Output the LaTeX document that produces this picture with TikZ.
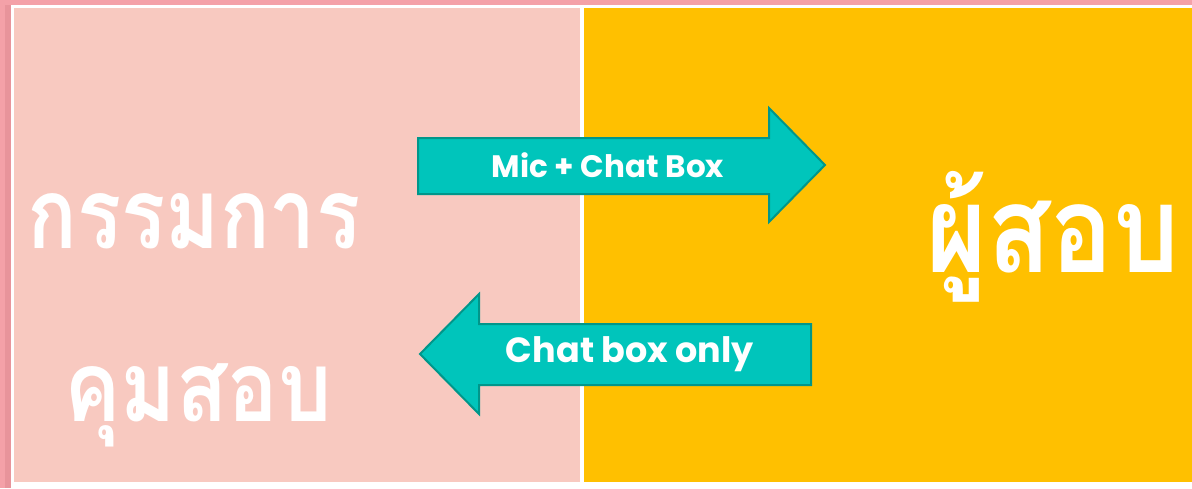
\documentclass[tikz,border=0pt]{standalone}
\usepackage{fontspec}
\usepackage{graphicx}
\newfontfamily\thaifont[Script=Thai]{Loma}
\newfontfamily\latfont{Poppins}
\definecolor{outerpink}{HTML}{F4A1A8}
\definecolor{shadowpink}{HTML}{E8949B}
\definecolor{leftpink}{HTML}{F8C9C0}
\definecolor{gold}{HTML}{FFC000}
\definecolor{tealfill}{HTML}{00C5BB}
\definecolor{tealline}{HTML}{00968A}
\tikzset{
  arrowshape/.style={fill=tealfill, draw=tealline, line width=2pt, line join=miter},
  arrowtext/.style={text=white, font=\latfont\bfseries},
  thaitext/.style={text=white, font=\thaifont\bfseries, inner sep=0pt}
}
\begin{document}
\begin{tikzpicture}[x=1pt,y=-1pt]
\useasboundingbox (0,0) rectangle (1192,488);
\fill[outerpink] (0,0) rectangle (1192,488);
\fill[shadowpink] (5,5) rectangle (11,488);
\fill[white] (11,5) rectangle (1192,488);
\fill[leftpink] (14,8) rectangle (580,482);
\fill[gold] (584,8) rectangle (1192,482);
% right arrow
\draw[arrowshape] (418,138) -- (769,138) -- (769,108) -- (825,165) -- (769,222) -- (769,194) -- (418,194) -- cycle;
\node[arrowtext, font=\latfont\bfseries\fontsize{31}{31}\selectfont] (mic) at (608,165) {Mic + Chat Box};
% left arrow
\draw[arrowshape] (811,324) -- (479,324) -- (479,294) -- (420,354) -- (479,414) -- (479,385) -- (811,385) -- cycle;
\node[arrowtext, font=\latfont\bfseries\fontsize{35}{35}\selectfont] (chat) at (630,354) {Chat box only};
% Thai labels
\node[thaitext, font=\thaifont\bfseries\fontsize{98}{98}\selectfont, anchor=base] (k1) at (194,248) {\scalebox{0.84}[1]{กรรมการ}};
\node[thaitext, font=\thaifont\bfseries\fontsize{98}{98}\selectfont, anchor=base] (k2) at (198,421) {\scalebox{0.86}[1]{คุมสอบ}};
\node[thaitext, font=\thaifont\bfseries\fontsize{121}{121}\selectfont, anchor=base] (p) at (1053,272) {\scalebox{0.86}[1]{ผู้สอบ}};
\end{tikzpicture}
\end{document}
